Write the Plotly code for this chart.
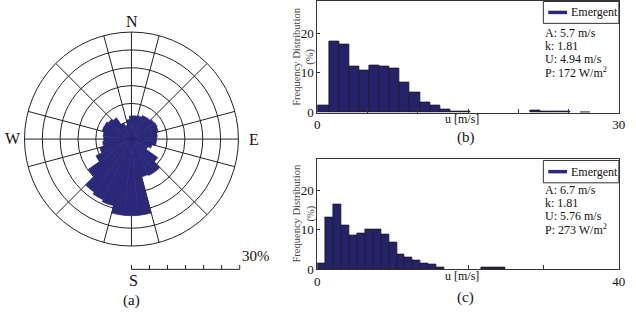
import plotly.graph_objects as go

W, H = 636, 325

# ---------------- data ----------------
# (a) wind rose: direction (deg, clockwise from N) and frequency (%)
rose_dir = list(range(0, 360, 10))
rose_freq = [6.5, 6.6, 6.8, 7.3, 7.4, 7.8, 8.0, 7.8, 7.3, 7.1, 7.0, 6.0,
             5.0, 9.0, 11.3, 11.3, 11.0, 21.5, 21.5, 21.5, 19.4, 18.8, 18.2, 14.8,
             11.0, 9.2, 8.1, 7.8, 8.0, 8.5, 8.4, 7.9, 7.3, 5.0, 4.0, 5.5]
rose_max = 30
rose_rings = [5, 10, 15, 20, 25]
rose_spokes = [0, 15, 45, 75, 90, 105, 135, 165, 180, 195, 225, 255, 270, 285, 315, 345]
scale_ticks = [0, 5, 10, 15, 20, 25, 30]

# (b) histogram: bin left edge (m/s), bin width, frequency (%)
b_left = [0, 1.2, 2.2, 3.2, 4.2, 5.2, 6.2, 7.2, 8.2, 9.2, 10.2, 11.2, 12.2, 13.2, 14.2,
          21.2, 22.2, 23.2, 24.2, 26.2]
b_width = [1.2] + [1.0] * 19
b_freq = [1.9, 17.9, 17.2, 11.6, 10.7, 12.0, 11.7, 11.1, 7.5, 5.1, 2.6, 1.9, 0.7, 0.4, 0.3,
          0.5, 0.4, 0.3, 0.3, 0.15]
b_stats = ["A: 5.7 m/s", "k: 1.81", "U: 4.94 m/s", "P: 172 W/m<sup>2</sup>"]

# (c) histogram
c_left = [0, 1.1, 2.15, 3.2, 4.25, 5.3, 6.35, 7.4, 8.45, 9.5, 10.55, 11.6, 12.65, 13.7,
          14.75, 15.8, 21.8, 22.85, 23.9]
c_width = [1.1] + [1.05] * 18
c_freq = [1.5, 13.1, 16.4, 11.0, 8.4, 8.9, 9.9, 9.9, 8.8, 6.8, 3.7, 2.9, 2.2, 1.5, 1.2, 0.5,
          0.4, 0.45, 0.4]
c_stats = ["A: 6.7 m/s", "k: 1.81", "U: 5.76 m/s", "P: 273 W/m<sup>2</sup>"]

NAVY = "#2a2878"
BAR = "#25226c"
FONT = "Liberation Serif, Times New Roman, serif"


def px(x):
    return x / W


def py(y):
    return 1 - y / H


def note(text, x, y, size, xanchor="center", yanchor="middle", color="#111", **kw):
    d = dict(text=text, x=px(x), y=py(y), xref="paper", yref="paper", showarrow=False,
             xanchor=xanchor, yanchor=yanchor, font=dict(size=size, color=color, family=FONT))
    d.update(kw)
    return d


fig = go.Figure()

# ---------------- (a) polar ----------------
cx, cy, R = 130.5, 142, 110
fig.add_trace(go.Barpolar(
    r=rose_freq, theta=rose_dir, width=[10] * len(rose_dir),
    marker=dict(color=NAVY, line=dict(color=NAVY, width=0.6)),
    showlegend=False, hoverinfo="skip"))

fig.update_layout(polar=dict(
    domain=dict(x=[px(cx - R), px(cx + R)], y=[py(cy + R), py(cy - R)]),
    bgcolor="white",
    bargap=0,
    angularaxis=dict(rotation=90, direction="clockwise", tickvals=rose_spokes,
                     showticklabels=False, ticks="", showline=True, linecolor="#222",
                     linewidth=1, gridcolor="#222", gridwidth=0.8),
    radialaxis=dict(range=[0, rose_max], tickvals=rose_rings, showticklabels=False,
                    ticks="", showline=False, gridcolor="#222", gridwidth=0.8),
))

ann = []
shapes = []
ann.append(note("N", cx + 1, 21, 16))
ann.append(note("E", 255, 142, 16))
ann.append(note("S", 133, 287, 16))
ann.append(note("W", 0, 141, 16, xanchor="left"))

# scale bar
sb_y = 276
shapes.append(dict(type="line", xref="paper", yref="paper", x0=px(cx), x1=px(cx + R),
                   y0=py(sb_y), y1=py(sb_y), line=dict(color="#222", width=1)))
for v in scale_ticks:
    xx = cx + v / rose_max * R
    shapes.append(dict(type="line", xref="paper", yref="paper", x0=px(xx), x1=px(xx),
                       y0=py(sb_y), y1=py(sb_y - 4.5), line=dict(color="#222", width=1)))
ann.append(note("30%", 257, 262, 15))
ann.append(note("(a)", 131, 308, 15))

# ---------------- histograms ----------------
x0p, x1p = 319.3, 625.7
panels = [
    dict(left=b_left, width=b_width, freq=b_freq, stats=b_stats, top=0.5, bot=114.8, xmax=30,
         dt=5, xa="x", ya="y", lab="(b)", laby=140, legy=(0.5, 23), txty=[33, 46.5, 60, 73.5]),
    dict(left=c_left, width=c_width, freq=c_freq, stats=c_stats, top=162, bot=275.7, xmax=40,
         dt=10, xa="x2", ya="y2", lab="(c)", laby=305, legy=(164, 187), txty=[194.5, 208, 221.5, 235]),
]

for i, p in enumerate(panels):
    fig.add_trace(go.Bar(x=p["left"], y=p["freq"], width=p["width"], offset=0,
                         marker=dict(color=BAR, line=dict(color="#1a1a1a", width=0.8)),
                         name="Emergent", showlegend=False, xaxis=p["xa"], yaxis=p["ya"],
                         hoverinfo="skip"))
    sfx = "" if i == 0 else "2"
    fig.layout["xaxis" + sfx] = dict(
        domain=[px(x0p), px(x1p)], anchor=p["ya"], range=[0, p["xmax"]],
        tickvals=[0, p["xmax"]], ticktext=["0", str(p["xmax"])],
        ticks="", showline=True, mirror=True, linecolor="#333", linewidth=1,
        showgrid=False, zeroline=False,
        minor=dict(tickvals=list(range(p["dt"], p["xmax"], p["dt"])), ticks="inside",
                   ticklen=4, tickcolor="#333"),
        tickfont=dict(size=13, color="#111", family=FONT))
    fig.layout["yaxis" + sfx] = dict(
        domain=[py(p["bot"]), py(p["top"])], anchor=p["xa"], range=[0, 28],
        tickvals=[0, 10, 20], ticks="inside", ticklen=3, tickcolor="#333",
        showline=True, mirror=True, linecolor="#333", linewidth=1,
        showgrid=False, zeroline=False,
        tickfont=dict(size=13, color="#111", family=FONT))

    # x label in the tick-label row
    ann.append(note("u [m/s]", 466, p["bot"] + 7, 12))
    # y title
    ann.append(note("Frequency Distribution<br>(%)", 305.5, (p["top"] + p["bot"]) / 2, 10.5,
                    color="#444", textangle=-90))
    # panel label
    ann.append(note(p["lab"], 470, p["laby"], 15))
    # legend box
    ly0, ly1 = p["legy"]
    shapes.append(dict(type="rect", xref="paper", yref="paper", x0=px(549), x1=px(x1p),
                       y0=py(ly1), y1=py(ly0), line=dict(color="#333", width=1),
                       fillcolor="white"))
    lm = (ly0 + ly1) / 2
    shapes.append(dict(type="line", xref="paper", yref="paper", x0=px(554), x1=px(573),
                       y0=py(lm), y1=py(lm), line=dict(color=NAVY, width=3.5)))
    ann.append(note("Emergent", 575, lm, 12, xanchor="left"))
    for s, yy in zip(p["stats"], p["txty"]):
        ann.append(note(s, 549, yy, 12, xanchor="left"))

fig.update_layout(
    width=W, height=H, margin=dict(l=0, r=0, t=0, b=0),
    paper_bgcolor="white", plot_bgcolor="white",
    bargap=0, showlegend=False,
    annotations=ann, shapes=shapes,
    font=dict(family=FONT, color="#111"),
)

fig.write_html("out.html")
